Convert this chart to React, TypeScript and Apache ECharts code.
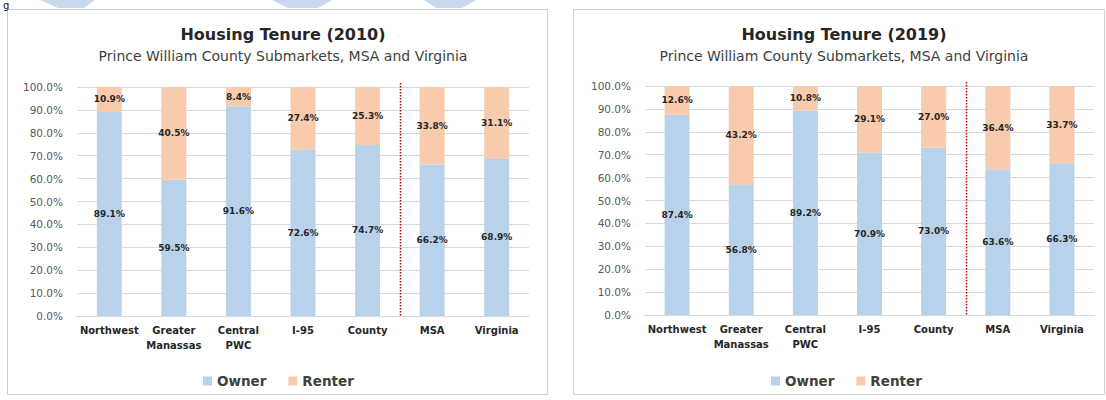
import React, { useEffect, useRef } from "react";
import * as echarts from "echarts";

const categories = ["Northwest", "Greater\nManassas", "Central\nPWC", "I-95", "County", "MSA", "Virginia"];
const owner2010 = [89.1, 59.5, 91.6, 72.6, 74.7, 66.2, 68.9];
const renter2010 = [10.9, 40.5, 8.4, 27.4, 25.3, 33.8, 31.1];
const owner2019 = [87.4, 56.8, 89.2, 70.9, 73.0, 63.6, 66.3];
const renter2019 = [12.6, 43.2, 10.8, 29.1, 27.0, 36.4, 33.7];
const titles = ["Housing Tenure (2010)", "Housing Tenure (2019)"];
const subtitle = "Prince William County Submarkets, MSA and Virginia";
const seriesNames = ["Owner", "Renter"];

const FONT = "DejaVu Sans";
const OWNER_COLOR = "#b9d2eb";
const RENTER_COLOR = "#f8cbad";

export default function App() {
  const ref = useRef<HTMLDivElement>(null);
  useEffect(() => {
    if (!ref.current) return;
    const chart = echarts.init(ref.current, null, { renderer: "svg" });

    const grids = [
      { left: 77, right: 1106 - 529, top: 87, bottom: 400 - 316 },
      { left: 645, right: 1106 - 1094, top: 86, bottom: 400 - 315 },
    ];
    const centers = [278, 839];

    const yAxes = grids.map((_, i) => ({
      type: "value",
      gridIndex: i,
      min: 0,
      max: 100,
      interval: 10,
      axisLine: { show: false },
      axisTick: { show: false },
      splitLine: { lineStyle: { color: "#d9d9d9", width: 1 } },
      axisLabel: {
        fontFamily: FONT,
        fontSize: 10.5,
        color: "#595959",
        margin: 14,
        formatter: (v: number) => v.toFixed(1) + "%",
      },
    }));

    const xAxes = grids.map((_, i) => ({
      type: "category",
      gridIndex: i,
      data: categories,
      axisLine: { show: true, lineStyle: { color: "#d9d9d9" } },
      axisTick: { show: false },
      axisLabel: {
        fontFamily: FONT,
        fontSize: 10,
        fontWeight: "bold",
        color: "#262626",
        margin: 7,
        lineHeight: 15,
        interval: 0,
      },
    }));

    const label = {
      show: true,
      position: "inside",
      fontFamily: FONT,
      fontSize: 9,
      fontWeight: "bold",
      color: "#262626",
      formatter: (p: any) => Number(p.value).toFixed(1) + "%",
    };

    const dataSets = [
      [owner2010, renter2010],
      [owner2019, renter2019],
    ];
    const series: any[] = [];
    dataSets.forEach((ds, i) => {
      ds.forEach((vals, j) => {
        series.push({
          type: "bar",
          name: seriesNames[j],
          xAxisIndex: i,
          yAxisIndex: i,
          stack: "s" + i,
          barWidth: 25,
          data: vals,
          itemStyle: { color: j === 0 ? OWNER_COLOR : RENTER_COLOR },
          label,
        });
      });
    });

    const legendLefts = [203, 771];

    chart.setOption({
      animation: false,
      textStyle: { fontFamily: FONT },
      title: centers.map((c, i) => ({
        text: titles[i],
        subtext: subtitle,
        left: c,
        textAlign: "center",
        top: 20,
        itemGap: 5,
        textStyle: { fontFamily: FONT, fontSize: 16, fontWeight: "bold", color: "#262626", lineHeight: 18 },
        subtextStyle: { fontFamily: FONT, fontSize: 14, color: "#404040", lineHeight: 16 },
      })),
      legend: legendLefts.map((l) => ({
        data: seriesNames,
        left: l,
        top: 374,
        padding: 0,
        icon: "rect",
        itemWidth: 9,
        itemHeight: 9,
        itemGap: 22,
        selectedMode: false,
        textStyle: { fontFamily: FONT, fontSize: 13.5, fontWeight: "bold", color: "#404040" },
      })),
      grid: grids,
      xAxis: xAxes,
      yAxis: yAxes,
      series,
    });

    const elements: any[] = [
      {
        type: "rect",
        z: -10,
        silent: true,
        shape: { x: 7.5, y: 9.5, width: 540, height: 385 },
        style: { fill: "#ffffff", stroke: "#cfcfcf", lineWidth: 1 },
      },
      {
        type: "rect",
        z: -10,
        silent: true,
        shape: { x: 573.5, y: 9.5, width: 531, height: 385 },
        style: { fill: "#ffffff", stroke: "#cfcfcf", lineWidth: 1 },
      },
      {
        type: "polygon",
        silent: true,
        shape: { points: [[40, 0], [95, 0], [84, 8], [58, 8]] },
        style: { fill: "#c9daf0" },
      },
      {
        type: "polygon",
        silent: true,
        shape: { points: [[272, 0], [332, 0], [318, 8], [288, 8]] },
        style: { fill: "#c9daf0" },
      },
      {
        type: "polygon",
        silent: true,
        shape: { points: [[424, 0], [476, 0], [462, 8], [436, 8]] },
        style: { fill: "#c9daf0" },
      },
      {
        type: "text",
        silent: true,
        x: 3,
        y: 0,
        style: { text: "g", font: "10px DejaVu Sans", fill: "#111111", verticalAlign: "top" },
      },
    ];

    [0, 1].forEach((i) => {
      const a = chart.convertToPixel({ xAxisIndex: i } as any, "County") as unknown as number;
      const b = chart.convertToPixel({ xAxisIndex: i } as any, "MSA") as unknown as number;
      const yTop = chart.convertToPixel({ yAxisIndex: i } as any, 100) as unknown as number;
      const yBot = chart.convertToPixel({ yAxisIndex: i } as any, 0) as unknown as number;
      const x = Math.round((a + b) / 2) + 0.5;
      elements.push({
        type: "line",
        silent: true,
        z: 10,
        shape: { x1: x, y1: yTop - 4, x2: x, y2: yBot + 1 },
        style: { stroke: "#c00000", lineWidth: 1.5, lineDash: [1.5, 1.5] },
      });
    });

    chart.setOption({ graphic: { elements } });

    return () => chart.dispose();
  }, []);

  return (
    <div
      ref={ref}
      style={{ position: "fixed", left: 0, top: 0, width: 1106, height: 400, background: "#ffffff" }}
    />
  );
}
